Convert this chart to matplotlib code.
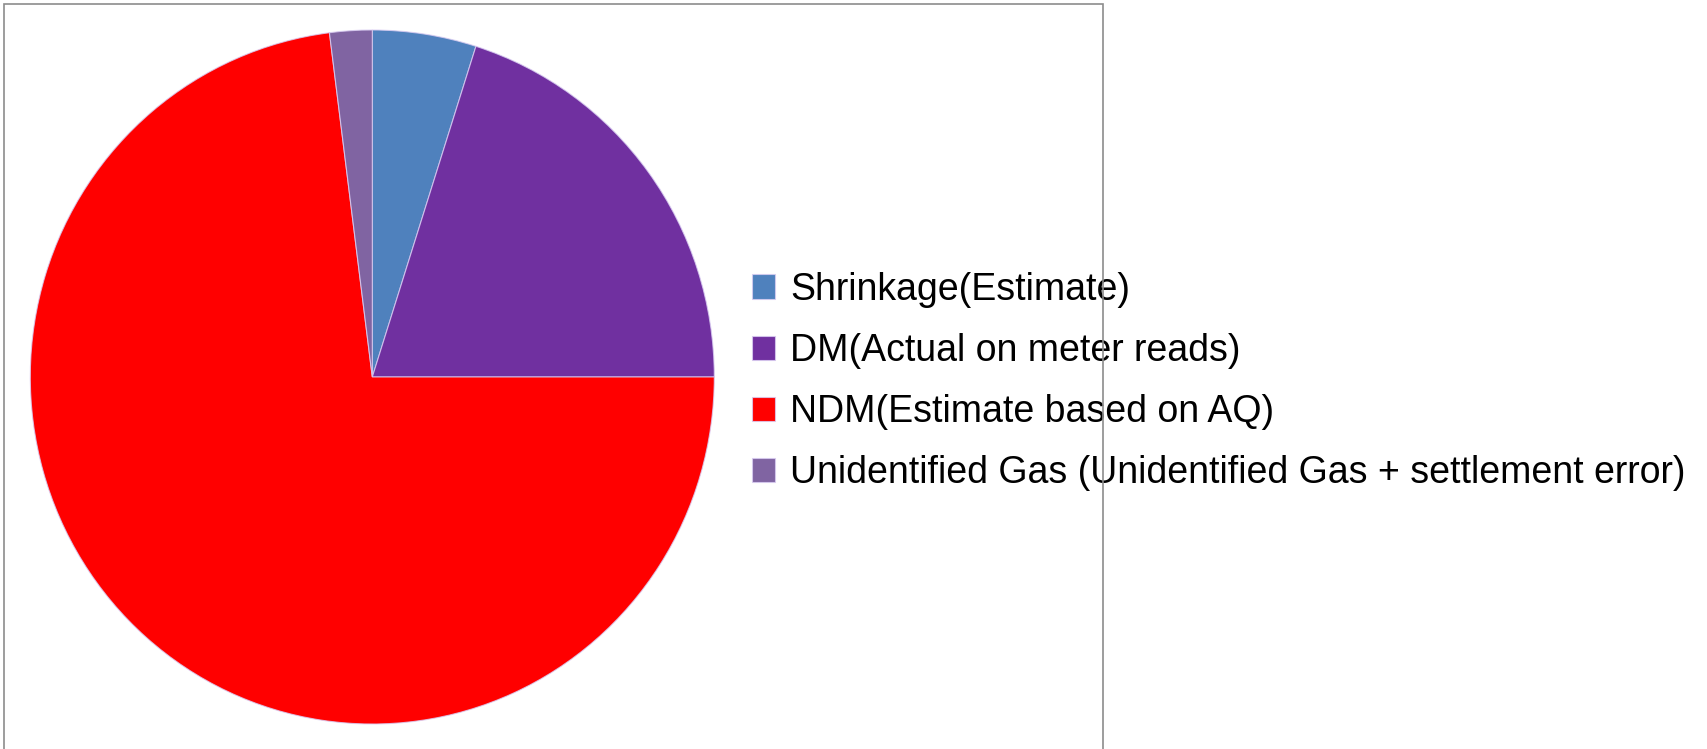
import matplotlib
matplotlib.use('Agg')
import matplotlib.pyplot as plt
from matplotlib.patches import Rectangle

# gas allocation shares (percent)
labels = ['Shrinkage(Estimate)',
          'DM(Actual on meter reads)',
          'NDM(Estimate based on AQ)',
          'Unidentified Gas (Unidentified Gas + settlement error)']
shares = [4.9, 20.1, 73.0, 2.0]
colors = ['#4F81BD', '#7030A0', '#FF0000', '#8064A2']

plt.rcParams['font.family'] = ['Liberation Sans', 'DejaVu Sans']

W, H = 1708, 749
fig = plt.figure(figsize=(W / 100, H / 100), dpi=100)

# pie centre ~ (372, 377) px, radii ~342 x 347 px
cx, cy, rx, ry = 372.3, 377, 342, 347
ax = fig.add_axes([(cx - rx) / W, (H - cy - ry) / H, 2 * rx / W, 2 * ry / H])
wedges, _ = ax.pie(shares, colors=colors, startangle=90, counterclock=False,
                   wedgeprops=dict(edgecolor=(0.85, 0.8, 0.95, 0.8), linewidth=0.8))
ax.set_aspect('auto')
ax.set_xlim(-1, 1)
ax.set_ylim(-1, 1)
ax.axis('off')

fig.legend(wedges, labels, loc='center left', bbox_to_anchor=(752 / W, 1 - 381.5 / H),
           frameon=False, fontsize=27, handlelength=0.62, handleheight=0.62,
           handletextpad=0.4, labelspacing=0.67, borderpad=0, borderaxespad=0)

# plot area border (bottom runs off the image)
fig.patches.append(Rectangle((4 / W, -0.05), (1103 - 4) / W, 1.05 - 3.5 / H,
                             transform=fig.transFigure, fill=False,
                             edgecolor='#8c8c8c', linewidth=1.2, zorder=10))

fig.savefig('out.png', dpi=100)
